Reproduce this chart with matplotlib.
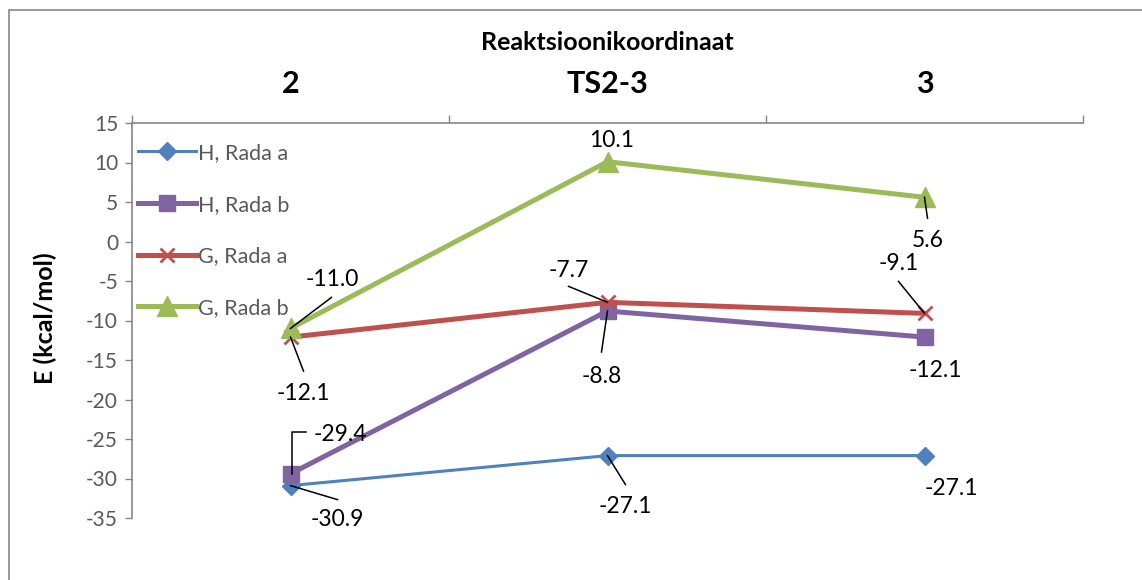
import matplotlib
matplotlib.use("Agg")
import matplotlib.pyplot as plt
from matplotlib.patches import Rectangle
from matplotlib.lines import Line2D
from matplotlib.ticker import FixedLocator, NullFormatter
from matplotlib import transforms

plt.rcParams['font.family'] = ['Lato', 'DejaVu Sans']

# Reaction coordinate steps and energies (kcal/mol)
categories = ["2", "TS2-3", "3"]
h_rada_a = [-30.9, -27.1, -27.1]
h_rada_b = [-29.4, -8.8, -12.1]
g_rada_a = [-12.1, -7.7, -9.1]
g_rada_b = [-11.0, 10.1, 5.6]
y_ticks = [15, 10, 5, 0, -5, -10, -15, -20, -25, -30, -35]

series = [
    ("H, Rada a", h_rada_a, "#4F81BD", "D", 9, 2.2),
    ("H, Rada b", h_rada_b, "#8064A2", "s", 11, 3.6),
    ("G, Rada a", g_rada_a, "#C0504D", "x", 10, 3.6),
    ("G, Rada b", g_rada_b, "#9BBB59", "^", 14, 3.6),
]

# Label placement per (series, point): text offset and optional leader path (pixels)
label_layout = {
    (0, 0): ((47, -34), [(0, 0), (47, -14)]),
    (1, 0): ((50, 39), [(1, 0), (1, 42), (15, 42)]),
    (2, 0): ((13, -56), [(0, 0), (13, -34)]),
    (3, 0): ((42, 49), [(0, 0), (41, 31)]),
    (3, 1): ((4, 21), None),
    (2, 1): ((-39, 32), [(0, 0), (-39, 16)]),
    (1, 1): ((-6, -65), [(0, 0), (-6, -41)]),
    (0, 1): ((18, -51), [(0, 0), (18, -29)]),
    (3, 2): ((3, -43), [(0, 0), (3, -21)]),
    (2, 2): ((-26, 50), [(0, 0), (-26, 32)]),
    (1, 2): ((11, -33), None),
    (0, 2): ((27, -33), None),
}

W, H = 1142, 580
fig = plt.figure(figsize=(W / 100, H / 100), dpi=100)
ax = fig.add_axes([132 / W, 1 - 518 / H, 951 / W, 395 / H])

x = list(range(len(categories)))
for name, vals, color, marker, ms, lw in series:
    mew = 2 if marker == "x" else 1
    ax.plot(x, vals, color=color, lw=lw, marker=marker, markersize=ms,
            markeredgewidth=mew, markeredgecolor=color, markerfacecolor=color,
            label=name, solid_joinstyle="round", clip_on=False)

ax.set_xlim(-0.5, len(categories) - 0.5)
ax.set_ylim(min(y_ticks), max(y_ticks))

# Category axis at the top
ax.xaxis.tick_top()
ax.set_xticks(x)
ax.set_xticklabels(categories, fontsize=22, fontweight="bold")
ax.tick_params(axis="x", which="major", length=0, pad=18)
ax.xaxis.set_minor_locator(FixedLocator([i - 0.5 for i in range(len(categories) + 1)]))
ax.xaxis.set_minor_formatter(NullFormatter())
ax.tick_params(axis="x", which="minor", length=6, width=1, color="#868686", top=True)

ax.set_yticks(y_ticks)
ax.set_yticklabels([str(v) for v in y_ticks])
ax.tick_params(axis="y", length=5, width=1, color="#868686", labelsize=15,
               labelcolor="#595959", pad=5)

for side in ("bottom", "right"):
    ax.spines[side].set_visible(False)
for side in ("top", "left"):
    ax.spines[side].set_color("#868686")
    ax.spines[side].set_linewidth(1.2)

# Data labels with leader lines (leader vertices are pixel offsets from the point)
for (si, pi), (toff, path) in label_layout.items():
    vals = series[si][1]
    xy = (x[pi], vals[pi])
    ax.annotate(f"{vals[pi]:.1f}", xy=xy, xytext=toff, textcoords="offset pixels",
                ha="center", va="center", fontsize=16.5, color="black",
                annotation_clip=False, zorder=5)
    if path:
        trans = transforms.Affine2D() + transforms.ScaledTranslation(xy[0], xy[1], ax.transData)
        xs = [p[0] for p in path]
        ys = [p[1] for p in path]
        ax.add_line(Line2D(xs, ys, transform=trans, color="black", lw=1.1,
                           clip_on=False, zorder=5))

leg = ax.legend(loc="upper left", bbox_to_anchor=(6 / 951, 1 - 20 / 395),
                frameon=False, fontsize=15.5, handlelength=2.7, handletextpad=0.1,
                labelspacing=1.47, borderaxespad=0, borderpad=0)
for t in leg.get_texts():
    t.set_color("#595959")

fig.text(607 / W, 1 - 42 / H, "Reaktsioonikoordinaat", ha="center", va="center",
         fontsize=18, fontweight="bold")
fig.text(45 / W, 1 - 318 / H, "E (kcal/mol)", ha="center", va="center",
         rotation=90, fontsize=18, fontweight="bold")

# Outer chart frame
fig.patches.append(Rectangle((9 / W, -0.1), 1.2, 1.1 - 10 / H, transform=fig.transFigure,
                             fill=False, edgecolor="#868686", lw=1.2))

fig.savefig("out.png", dpi=100)
